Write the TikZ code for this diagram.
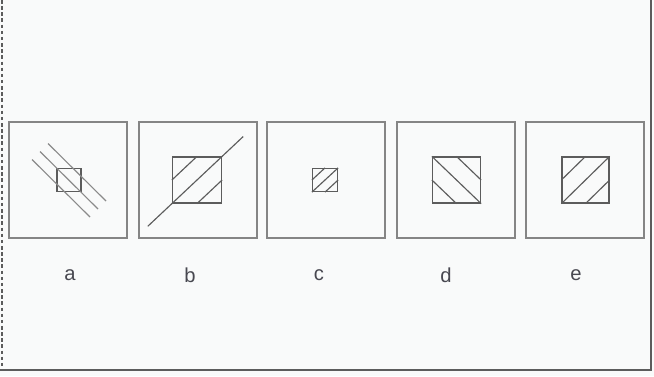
\documentclass[tikz,border=0pt]{standalone}
\usepackage{fontspec}
\setmainfont{Liberation Sans}
\usetikzlibrary{calc,positioning}
\definecolor{frameGray}{HTML}{858585}
\definecolor{inkGray}{HTML}{5C5C5C}
\definecolor{stripeGray}{HTML}{8A8A8A}
\definecolor{letterGray}{HTML}{484850}
\definecolor{paperWhite}{HTML}{F9FAFA}

\begin{document}
\begin{tikzpicture}[
    panel/.style={draw=frameGray, line width=1.1pt, minimum width=2.36cm,
                  minimum height=2.32cm, inner sep=0pt},
    tile/.style={draw=inkGray, line width=0.7pt, inner sep=0pt},
    hatch/.style={inkGray, line width=0.65pt},
    stripe/.style={stripeGray, line width=0.65pt},
    letter/.style={text=letterGray, font=\fontsize{11.5}{13}\selectfont}]

    % === Page and outer frame ===
    \fill[paperWhite] (0,0) rectangle (13.08,7.52);
    \useasboundingbox (0,0) rectangle (13.08,7.52);
    \draw[inkGray, line width=0.9pt, dash pattern=on 2pt off 1.5pt]
      (0.04,7.52) -- (0.04,0.12);
    \draw[inkGray, line width=1.2pt] (0,0.12) -- (13.02,0.12) -- (13.02,7.52);

    % === Five answer panels with their letters ===
    \foreach \name/\x in {a/1.36, b/3.96, c/6.52, d/9.12, e/11.70} {
      \node[panel] (p\name) at (\x,3.92) {};
    }
    \foreach \name/\x in {a/1.40, b/3.80, c/6.38, d/8.92, e/11.52} {
      \node[letter] (l\name) at (\x,2.02) {\name};
    }

    % === Inner squares ===
    \node[tile, minimum width=0.48cm, minimum height=0.46cm] (sqa) at (1.38,3.92) {};
    \node[tile, minimum width=0.98cm, minimum height=0.92cm] (sqb) at (3.94,3.92) {};
    \node[tile, minimum width=0.50cm, minimum height=0.46cm] (sqc) at (6.50,3.92) {};
    \node[tile, minimum width=0.96cm, minimum height=0.92cm] (sqd) at (9.13,3.92) {};
    \node[tile, minimum width=0.94cm, minimum height=0.92cm] (sqe) at (11.71,3.92) {};

    % --- a: three parallel stripes across the small square ---
    \foreach \s in {-1,0,1} {
      \draw[stripe]
        ($(sqa.center)+(\s*0.16-0.58,\s*0.16+0.57)$) --
        ($(sqa.center)+(\s*0.16+0.58,\s*0.16-0.58)$);
    }

    % --- b: hatching with the diagonal drawn long ---
    \draw[hatch] ($(sqb.south west)!-0.48!(sqb.north east)$) --
                 ($(sqb.south west)!1.42!(sqb.north east)$);
    \draw[hatch] (sqb.west) -- (sqb.north);
    \draw[hatch] (sqb.south) -- (sqb.east);

    % --- c and e: hatching "/" ---
    \foreach \sq in {sqc, sqe} {
      \draw[hatch] (\sq.south west) -- (\sq.north east);
      \draw[hatch] (\sq.west) -- (\sq.north);
      \draw[hatch] (\sq.south) -- (\sq.east);
    }

    % --- d: hatching "\" ---
    \draw[hatch] (sqd.north west) -- (sqd.south east);
    \draw[hatch] (sqd.north) -- (sqd.east);
    \draw[hatch] (sqd.west) -- (sqd.south);
\end{tikzpicture}
\end{document}
